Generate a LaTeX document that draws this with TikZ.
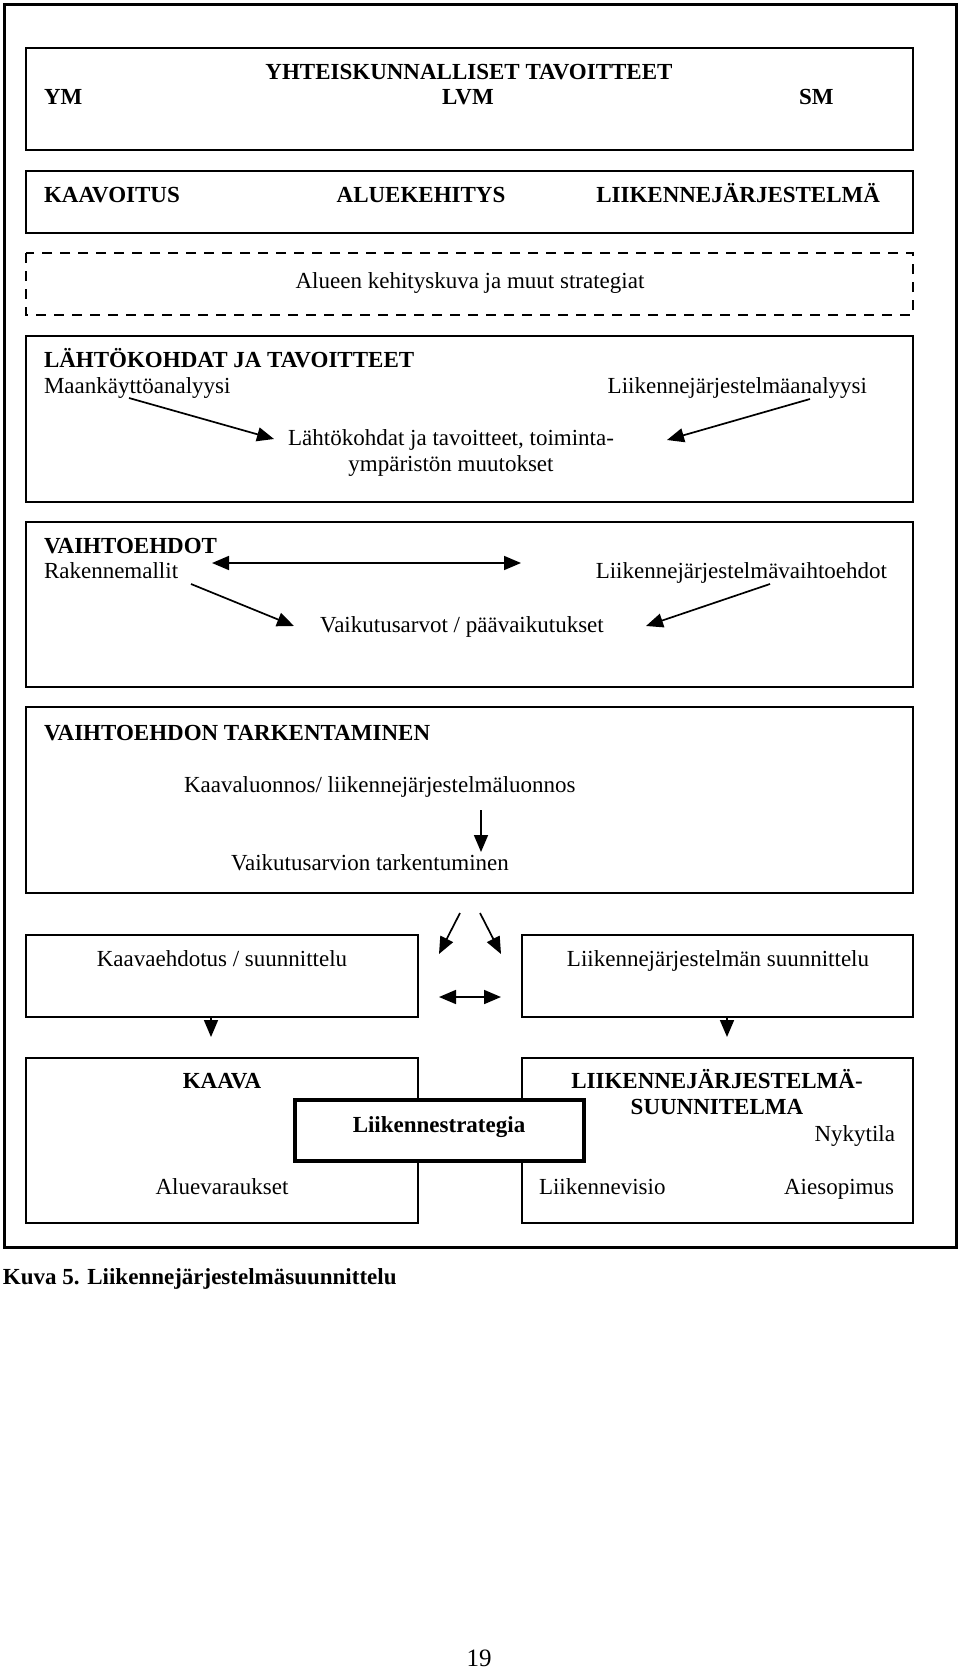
\documentclass[tikz,border=0pt]{standalone}
\usepackage{fontspec}
\setmainfont{Liberation Serif}
\usetikzlibrary{arrows.meta}
\begin{document}
\begin{tikzpicture}[x=0.5pt,y=-0.5pt,
  every node/.style={inner sep=0pt,outer sep=0pt,font=\fontsize{11.5pt}{13pt}\selectfont},
  bx/.style={draw,line width=0.85pt},
  frame/.style={draw,line width=1.5pt},
  strat/.style={draw,line width=2pt,fill=white},
  dbox/.style={draw,line width=0.85pt,dash pattern=on 5pt off 4pt},
  hd/.style={font=\fontsize{11.5pt}{13pt}\selectfont\bfseries},
  tip/.style={line width=0.85pt,-{Triangle[length=8.5pt,width=7pt]}},
  dtip/.style={line width=0.85pt,{Triangle[length=8.5pt,width=7pt]}-{Triangle[length=8.5pt,width=7pt]}}]
\useasboundingbox (0,0) rectangle (960,1669);
% frames
\draw[frame] (4,5) rectangle (956,1247);
\draw[bx] (26,48) rectangle (913,150);
\draw[bx] (26,171) rectangle (913,233);
\draw[dbox] (26,253) rectangle (913,315);
\draw[bx] (26,336) rectangle (913,502);
\draw[bx] (26,522) rectangle (913,687);
\draw[bx] (26,707) rectangle (913,893);
\draw[bx] (26,935) rectangle (418,1017);
\draw[bx] (522,935) rectangle (913,1017);
\draw[bx] (26,1058) rectangle (418,1223);
\draw[bx] (522,1058) rectangle (913,1223);
\draw[strat] (295,1100) rectangle (584,1161);
% box 1
\node[hd,anchor=base] (yht) at (469,80) {YHTEISKUNNALLISET TAVOITTEET};
\node[hd,anchor=base west] (ym) at (44,105) {YM};
\node[hd,anchor=base] (lvm) at (468,105) {LVM};
\node[hd,anchor=base west] (sm) at (799,105) {SM};
% box 2
\node[hd,anchor=base west] (kaavoitus) at (44,203) {KAAVOITUS};
\node[hd,anchor=base] (aluek) at (421,203) {ALUEKEHITYS};
\node[hd,anchor=base east] (liikj) at (880,203) {LIIKENNEJÄRJESTELMÄ};
% dashed
\node[anchor=base] (alueen) at (470,288) {Alueen kehityskuva ja muut strategiat};
% box 3
\node[hd,anchor=base west] (lahto) at (44,367) {LÄHTÖKOHDAT JA TAVOITTEET};
\node[anchor=base west] (maank) at (44,393) {Maankäyttöanalyysi};
\node[anchor=base east] (ljanal) at (867,393) {Liikennejärjestelmäanalyysi};
\node[anchor=base] (lt1) at (451,445) {Lähtökohdat ja tavoitteet, toiminta-};
\node[anchor=base] (lt2) at (451,471) {ympäristön muutokset};
\coordinate (a1s) at (129,398); \coordinate (a1e) at (274,439);
\coordinate (a2s) at (810,399); \coordinate (a2e) at (667,440);
\draw[tip] (a1s) -- (a1e);
\draw[tip] (a2s) -- (a2e);
% box 4
\node[hd,anchor=base west] (vaiht) at (44,553) {VAIHTOEHDOT};
\node[anchor=base west] (rak) at (44,578) {Rakennemallit};
\node[anchor=base east] (ljv) at (887,578) {Liikennejärjestelmävaihtoehdot};
\node[anchor=base] (vaik) at (462,632) {Vaikutusarvot / päävaikutukset};
\coordinate (d1l) at (212,563); \coordinate (d1r) at (521,563);
\draw[dtip] (d1l) -- (d1r);
\coordinate (a3s) at (191,584); \coordinate (a3e) at (294,626);
\coordinate (a4s) at (770,584); \coordinate (a4e) at (646,626);
\draw[tip] (a3s) -- (a3e);
\draw[tip] (a4s) -- (a4e);
% box 5
\node[hd,anchor=base west] (vtark) at (44,740) {VAIHTOEHDON TARKENTAMINEN};
\node[anchor=base west] (kluon) at (184,792) {Kaavaluonnos/ liikennejärjestelmäluonnos};
\node[anchor=base west] (vtar) at (231,870) {Vaikutusarvion tarkentuminen};
\coordinate (a5s) at (481,810); \coordinate (a5e) at (481,852);
\draw[tip] (a5s) -- (a5e);
% split arrows
\coordinate (a6s) at (460,913); \coordinate (a6e) at (439,954);
\coordinate (a7s) at (480,913); \coordinate (a7e) at (501,954);
\draw[tip] (a6s) -- (a6e);
\draw[tip] (a7s) -- (a7e);
% boxes 6,7
\node[anchor=base] (kehd) at (222,966) {Kaavaehdotus / suunnittelu};
\node[anchor=base] (ljsuun) at (718,966) {Liikennejärjestelmän suunnittelu};
\coordinate (d2l) at (439,997); \coordinate (d2r) at (501,997);
\draw[dtip] (d2l) -- (d2r);
\coordinate (a8s) at (211,1017); \coordinate (a8e) at (211,1037);
\coordinate (a9s) at (727,1017); \coordinate (a9e) at (727,1037);
\draw[tip] (a8s) -- (a8e);
\draw[tip] (a9s) -- (a9e);
% boxes 8,9
\node[hd,anchor=base] (kaava) at (222,1088) {KAAVA};
\node[hd,anchor=base] (ljs1) at (717,1088) {LIIKENNEJÄRJESTELMÄ-};
\node[hd,anchor=base] (ljs2) at (717,1114) {SUUNNITELMA};
\node[hd,anchor=base] (lstrat) at (439,1132) {Liikennestrategia};
\node[anchor=base east] (nyk) at (895,1141) {Nykytila};
\node[anchor=base] (aluev) at (222,1194) {Aluevaraukset};
\node[anchor=base west] (lvis) at (539,1194) {Liikennevisio};
\node[anchor=base east] (aies) at (894,1194) {Aiesopimus};
% caption
\node[hd,anchor=base west] (cap) at (3,1284) {Kuva 5. Liikennejärjestelmäsuunnittelu};
\node[anchor=base,font=\fontsize{12.5pt}{14pt}\selectfont] (page) at (479,1666) {19};
\end{tikzpicture}
\end{document}
